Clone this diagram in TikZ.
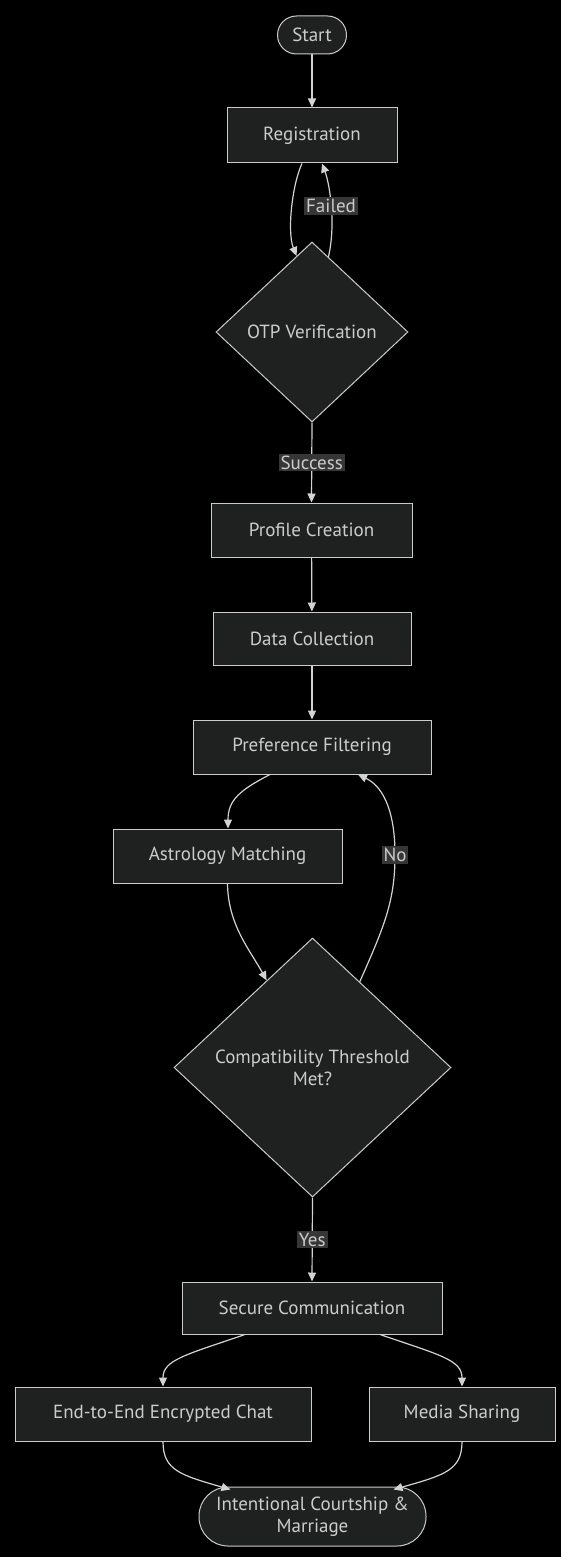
\documentclass[tikz,border=0pt]{standalone}
\usepackage{fontspec}
\setmainfont{PT Sans}
\usetikzlibrary{shapes.geometric,arrows.meta,calc}
\definecolor{bgc}{HTML}{000000}
\definecolor{nodefill}{HTML}{1F2020}
\definecolor{nodeline}{HTML}{CCCCCC}
\definecolor{txt}{HTML}{CCCCCC}
\definecolor{edgec}{HTML}{D3D3D3}
\definecolor{lblbg}{HTML}{363636}
\begin{document}
\begin{tikzpicture}[x=1pt,y=-1pt,
  every node/.style={font=\fontsize{19}{22}\selectfont, text=txt},
  box/.style={draw=nodeline, fill=nodefill, line width=1pt, rectangle, inner sep=0pt, align=center},
  stad/.style={box, rounded corners=#1},
  dec/.style={draw=nodeline, fill=nodefill, line width=1pt, diamond, inner sep=0pt, align=center},
  arr/.style={draw=edgec, line width=1.2pt, -{Triangle[length=9pt,width=8pt]}},
  lbl/.style={fill=lblbg, inner sep=2pt, text=txt}]
\fill[bgc] (0,0) rectangle (561,1557);
\useasboundingbox (0,0) rectangle (561,1557);

\node[stad=19pt, minimum width=69pt, minimum height=38pt] (start) at (312,35) {Start};
\node[box, minimum width=170pt, minimum height=55pt] (reg) at (312,135.5) {Registration};
\node[dec, minimum width=192pt, minimum height=180pt] (otp) at (312,332) {OTP Verification};
\node[box, minimum width=201pt, minimum height=54pt] (prof) at (311.5,530) {Profile Creation};
\node[box, minimum width=198pt, minimum height=53pt] (data) at (312,638.5) {Data Collection};
\node[box, minimum width=238pt, minimum height=54pt] (pref) at (312,747) {Preference Filtering};
\node[box, minimum width=229pt, minimum height=54pt] (astro) at (227.5,856) {Astrology Matching};
\node[dec, minimum width=277pt, minimum height=259pt] (comp) at (312.5,1067.5) {Compatibility Threshold\\Met?};
\node[box, minimum width=260pt, minimum height=52pt] (sec) at (312,1308) {Secure Communication};
\node[box, minimum width=296pt, minimum height=54pt] (chat) at (163,1414) {End-to-End Encrypted Chat};
\node[box, minimum width=186pt, minimum height=54pt] (media) at (462,1414) {Media Sharing};
\node[stad=29pt, minimum width=227pt, minimum height=59pt] (fin) at (312.5,1516.5) {Intentional Courtship \&\\Marriage};

\draw[arr] (start) -- (reg);
\draw[arr] ([xshift=-10pt]reg.south) .. controls (292,185) and (287,232) .. ($(otp.north)!0.16!(otp.west)$);
\draw[arr] ($(otp.north)!0.17!(otp.east)$) .. controls (336,225) and (330,185) .. ([xshift=10pt]reg.south)
  node[lbl, pos=0.5] {Failed};
\draw[arr] (otp.south) -- node[lbl] {Success} (prof.north);
\draw[arr] (prof) -- (data);
\draw[arr] (data) -- (pref);
\draw[arr] ([xshift=-42pt]pref.south) .. controls (240,790) and (228,800) .. ([xshift=0.5pt]astro.north);
\draw[arr] (astro.south) .. controls (228,925) and (250,950) .. ($(comp.north)!0.33!(comp.west)$);
\draw[arr] ($(comp.north)!0.34!(comp.east)$) .. controls (385,925) and (395,900) .. (395,855)
  node[lbl] {No} .. controls (395,805) and (380,785) .. ([xshift=46pt]pref.south);
\draw[arr] (comp.south) -- node[lbl] {Yes} (sec.north);
\draw[arr] ([xshift=-67pt]sec.south) .. controls (185,1355) and (163,1360) .. (chat.north);
\draw[arr] ([xshift=68pt]sec.south) .. controls (440,1355) and (462,1360) .. (media.north);
\draw[arr] (chat.south) .. controls (163,1470) and (180,1475) .. ([xshift=-82pt,yshift=-3pt]fin.north);
\draw[arr] (media.south) .. controls (462,1470) and (445,1475) .. ([xshift=81pt,yshift=-3pt]fin.north);
\end{tikzpicture}
\end{document}
